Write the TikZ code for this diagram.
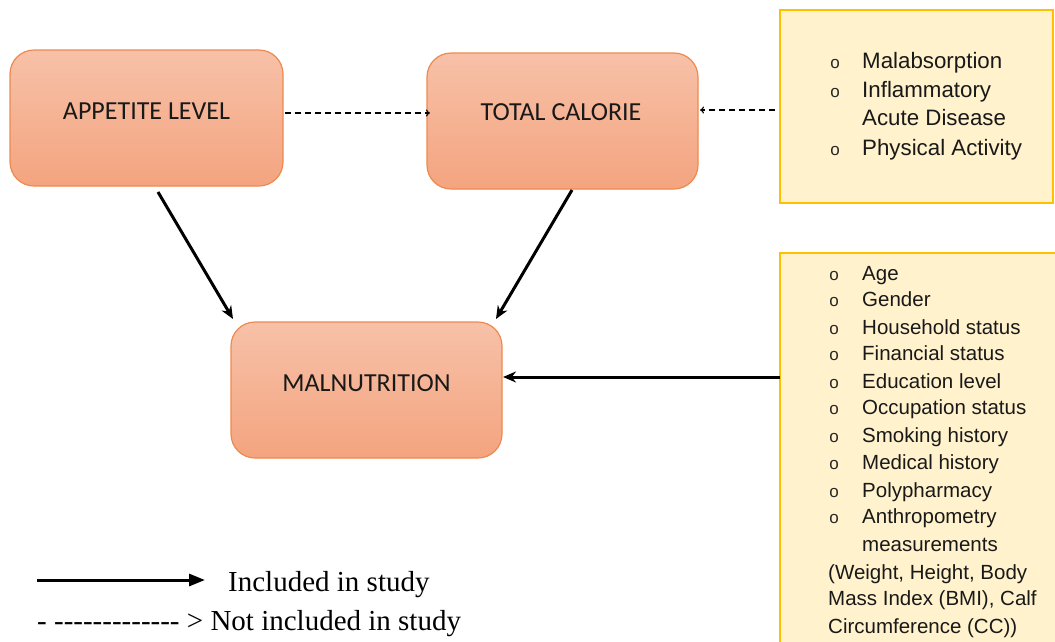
\documentclass[tikz,border=0pt]{standalone}
\usepackage{fontspec}
\setmainfont[Ligatures=TeXOff]{Liberation Serif}
\newfontfamily\carl{Carlito}
\newfontfamily\arialf{Liberation Sans}
\usetikzlibrary{arrows.meta}
\definecolor{orfill1}{HTML}{F7C1A8}
\definecolor{orfill2}{HTML}{F4A47F}
\definecolor{ordraw}{HTML}{EE8A4E}
\definecolor{yfill}{HTML}{FFF2CC}
\definecolor{ydraw}{HTML}{FFC000}
\tikzset{
  obox/.style={draw=ordraw, line width=1.2pt, rounded corners=24pt, top color=orfill1, bottom color=orfill2, inner sep=0pt},
  otext/.style={font=\carl\fontsize{26}{30}\selectfont, text=black!90},
  ybox/.style={draw=ydraw, line width=1.2pt, fill=yfill},
  ltext/.style={font=\arialf\fontsize{20.5}{24}\selectfont, anchor=base west, inner sep=0pt, text=black!90},
  ltextA/.style={font=\arialf\fontsize{22.3}{24}\selectfont, anchor=base west, inner sep=0pt, text=black!90},
  bul/.style={font=\arialf\fontsize{17}{18}\selectfont, anchor=base, inner sep=0pt, text=black!85},
  solidarr/.style={line width=3pt, -{Stealth[length=13pt,width=11pt]}},
  dasharr/.style={line width=1.1pt, dash pattern=on 6pt off 4pt, -{To[length=4pt,width=7pt]}},
  legtext/.style={font=\fontsize{29}{32}\selectfont, anchor=base west, inner sep=0pt},
}
\begin{document}
\begin{tikzpicture}[x=1pt,y=-1pt]
\useasboundingbox (0,0) rectangle (1055,641);
% orange boxes
\path[obox] (10,50) rectangle (283,186);
\node[otext] (app) at (146.5,111) {APPETITE LEVEL};
\coordinate (appR) at (285,113);
\path[obox] (427,53) rectangle (698,189);
\node[otext] (tot) at (561,112) {TOTAL CALORIE};
\path[obox] (231,322) rectangle (502,458);
\node[otext] (mal) at (366.5,383) {MALNUTRITION};
% yellow boxes
\path[ybox] (780,10) rectangle (1053,203);
\path[ybox] (780,253) rectangle (1058,650);
% list 1
\foreach \y/\t/\b in {68/Malabsorption/1, 97/Inflammatory/1, 125/Acute Disease/0, 155/Physical Activity/1}{
  \node[ltextA] at (862,\y) {\t};
  \ifnum\b=1 \node[bul] at (835,\y) {o};\fi
}
% list 2
\foreach \y/\t in {280/Age, 306/Gender, 334/Household status, 360/Financial status, 388/Education level, 414/Occupation status, 442/Smoking history, 469/Medical history, 497/Polypharmacy, 523/Anthropometry}{
  \node[ltext] at (862,\y) {\t};
  \node[bul] at (834,\y) {o};
}
\node[ltext] at (862,551) {measurements};
\node[ltext] at (828,579) {(Weight, Height, Body};
\node[ltext] at (828,605) {Mass Index (BMI), Calf};
\node[ltext] at (828,633) {Circumference (CC))};
% connectors
\coordinate (y1L) at (775,110);
\coordinate (totR) at (700,110);
\coordinate (totL) at (430,113);
\draw[dasharr] (appR) -- (totL);
\draw[dasharr] (y1L) -- (totR);
\coordinate (a1) at (158,192);
\coordinate (a2) at (233,319);
\coordinate (b1) at (572,190);
\coordinate (b2) at (496,319);
\coordinate (c1) at (780,377);
\coordinate (c2) at (503,377);
\draw[solidarr] (a1) -- (a2);
\draw[solidarr] (b1) -- (b2);
\draw[solidarr] (c1) -- (c2);
% legend
\coordinate (l1) at (37,580);
\coordinate (l2) at (205,580);
\draw[line width=3pt, -{Triangle[length=16pt,width=12pt]}] (l1) -- (l2);
\node[legtext] (inc) at (228,591) {Included in study};
\node[legtext] (notinc) at (37,630) {- ------------- > Not included in study};
\end{tikzpicture}
\end{document}
